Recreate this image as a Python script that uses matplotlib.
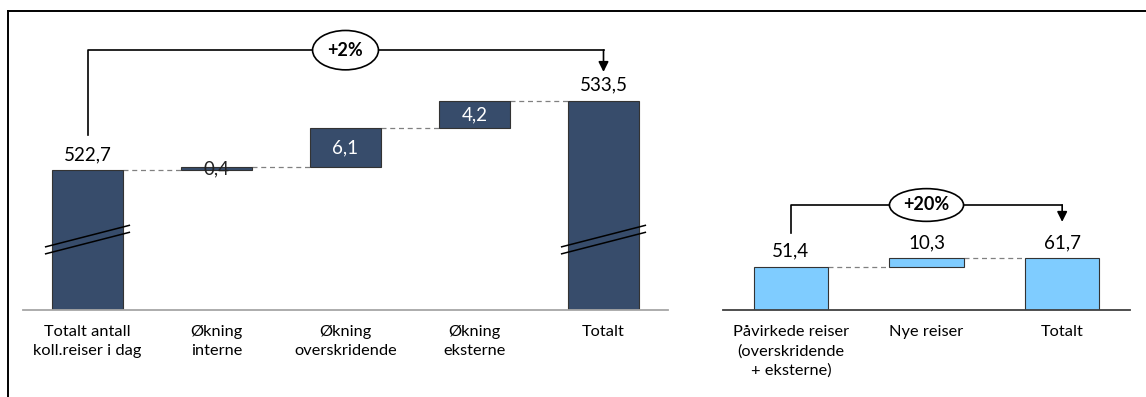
import matplotlib.pyplot as plt
from matplotlib.lines import Line2D

plt.rcParams['font.family'] = ['Lato', 'DejaVu Sans']

# Kollektivreiser per dag (tusen), venstre fossediagram
labels_a = ['Totalt antall\nkoll.reiser i dag', 'Økning\ninterne', 'Økning\noverskridende',
            'Økning\neksterne', 'Totalt']
start_a = 522.7
steps_a = [0.4, 6.1, 4.2]
total_a = 533.5
pct_a = '+2%'

# Påvirkede og nye reiser, høyre fossediagram
labels_b = ['Påvirkede reiser\n(overskridende\n+ eksterne)', 'Nye reiser', 'Totalt']
start_b = 51.4
steps_b = [10.3]
total_b = 61.7
pct_b = '+20%'

DARK = '#374C6B'
LIGHT = '#7FCCFF'
FS_VAL = 13.5
FS_CAT = 11.8


def fmt(v):
    return f'{v:.1f}'.replace('.', ',')


def waterfall(ax, labels, start, steps, total, color, ylim, step_pos,
              bracket_y, broken=False):
    ybase = ylim[0]
    n = len(labels)
    w = 0.55
    ax.set_xlim(-0.5, n - 0.5)
    ax.set_ylim(*ylim)

    # start- og totalsøyler
    for x, v in [(0, start), (n - 1, total)]:
        ax.bar(x, v - ybase, bottom=ybase, width=w, color=color,
               edgecolor='#333333', linewidth=0.8, zorder=2)
        ax.annotate(fmt(v), (x, v), xytext=(0, 5), textcoords='offset points',
                    ha='center', va='bottom', fontsize=FS_VAL, zorder=5)

    # endringssøyler
    level = start
    for i, (s, pos) in enumerate(zip(steps, step_pos), start=1):
        ax.bar(i, s, bottom=level, width=w, color=color,
               edgecolor='#333333', linewidth=0.8, zorder=2)
        ax.plot([i - 1 + w / 2, i - w / 2], [level, level], ls=(0, (4, 3)),
                color='#808080', lw=0.9, zorder=1)
        if pos == 'in':
            ax.text(i, level + s / 2, fmt(s), ha='center', va='center',
                    color='white', fontsize=FS_VAL, zorder=5)
        elif pos == 'mid':
            ax.text(i, level + s / 2, fmt(s), ha='center', va='center',
                    color='#222222', fontsize=FS_VAL, zorder=5)
        else:
            ax.annotate(fmt(s), (i, level + s), xytext=(0, 5),
                        textcoords='offset points', ha='center', va='bottom',
                        fontsize=FS_VAL, zorder=5)
        level += s
    ax.plot([n - 2 + w / 2, n - 1 - w / 2], [level, level], ls=(0, (4, 3)),
            color='#808080', lw=0.9, zorder=1)

    # brudd i aksen
    if broken:
        span = ylim[1] - ylim[0]
        for x in [0, n - 1]:
            for dy in [0.0, 0.025]:
                y0 = ybase + span * (0.200 + dy)
                y1 = ybase + span * (0.278 + dy)
                ax.plot([x - 0.33, x + 0.33], [y0, y1], color='black',
                        lw=1.1, zorder=4, solid_capstyle='butt')

    # prosentvis endring over diagrammet
    y_lo, y_top, y_tip = bracket_y
    ax.plot([0, 0, n - 1], [y_lo, y_top, y_top], color='black', lw=1.2,
            zorder=3)
    ax.annotate('', xy=(n - 1, y_tip), xytext=(n - 1, y_top),
                arrowprops=dict(arrowstyle='-|>,head_length=0.6,head_width=0.3',
                                color='black', lw=1.2, shrinkA=0, shrinkB=0))
    return ax


fig = plt.figure(figsize=(11.46, 3.97), dpi=100)
W, H = 1146, 397

ax1 = fig.add_axes([23 / W, 87 / H, 645 / W, 280 / H])
waterfall(ax1, labels_a, start_a, steps_a, total_a, DARK, (500.8, 544.55),
          ['mid', 'in', 'in'], (528.1, 541.4, 538.0), broken=True)
ax1.text(2, 541.4, pct_a, ha='center', va='center', fontsize=13,
         fontweight='bold', zorder=6,
         bbox=dict(boxstyle='ellipse,pad=0.3', fc='white', ec='black', lw=1.2))

ax2 = fig.add_axes([723 / W, 87 / H, 407 / W, 280 / H])
waterfall(ax2, labels_b, start_b, steps_b, total_b, LIGHT, (0, 332),
          ['above'], (91.3, 124.5, 104.5))
ax2.text(1, 124.5, pct_b, ha='center', va='center', fontsize=13,
         fontweight='bold', zorder=6,
         bbox=dict(boxstyle='ellipse,pad=0.17', fc='white', ec='black', lw=1.2))

for ax, labels, col in [(ax1, labels_a, '#A6A6A6'), (ax2, labels_b, '#404040')]:
    for sp in ['top', 'left', 'right']:
        ax.spines[sp].set_visible(False)
    ax.spines['bottom'].set_color(col)
    ax.spines['bottom'].set_linewidth(1.3)
    ax.set_yticks([])
    ax.set_xticks(range(len(labels)))
    ax.set_xticklabels(labels, fontsize=FS_CAT, linespacing=1.45)
    ax.tick_params(axis='x', length=0, pad=11)

# ramme oppe og til venstre
fig.add_artist(Line2D([8 / W, 1], [1 - 11 / H, 1 - 11 / H], color='black', lw=1.4))
fig.add_artist(Line2D([8 / W, 8 / W], [0, 1 - 11 / H], color='black', lw=1.4))

fig.savefig('out.png', dpi=100)
